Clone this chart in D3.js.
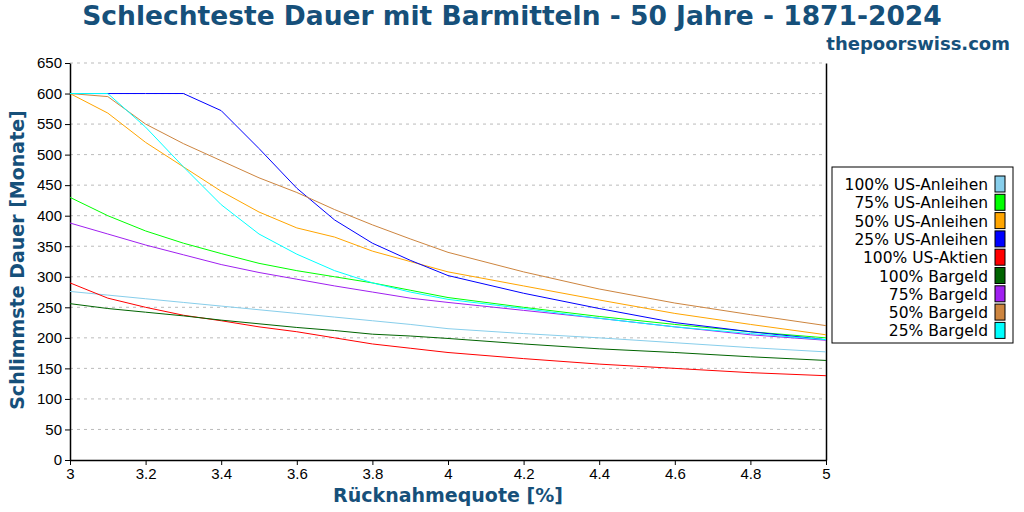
<!DOCTYPE html>
<html><head><meta charset="utf-8">
<script src="https://cdn.jsdelivr.net/npm/d3@7"></script>
<style>body{margin:0;background:#fff}svg{font-family:"DejaVu Sans",sans-serif}</style>
</head><body><div id="graph"></div>
<script>
const rates = [3, 3.1, 3.2, 3.3, 3.4, 3.5, 3.6, 3.7, 3.8, 3.9, 4, 4.2, 4.4, 4.6, 4.8, 5]
const names = ['100% US-Anleihen', '75% US-Anleihen', '50% US-Anleihen', '25% US-Anleihen', '100% US-Aktien', '100% Bargeld', '75% Bargeld', '50% Bargeld', '25% Bargeld']
const colors = ['#87ceeb', '#00ff00', '#ffa500', '#0000ff', '#ff0000', '#006400', '#a020f0', '#cd853f', '#00ffff']
const bonds100 = [276, 270, 264, 258, 252, 246, 240, 234, 228, 222, 215, 207, 200, 192, 184, 177]
const bonds75 = [430, 400, 375, 355, 338, 322, 310, 300, 290, 278, 266, 250, 235, 222, 210, 200]
const bonds50 = [600, 568, 520, 480, 440, 406, 380, 365, 342, 325, 308, 285, 262, 240, 222, 205]
const bonds25 = [600, 600, 600, 600, 572, 510, 445, 393, 355, 327, 302, 273, 248, 225, 210, 197]
const stocks100 = [290, 265, 250, 237, 228, 218, 210, 200, 190, 183, 176, 166, 157, 150, 143, 138]
const cash100 = [256, 248, 242, 236, 229, 223, 217, 212, 206, 203, 199, 190, 182, 176, 169, 163]
const cash75 = [388, 370, 352, 336, 320, 307, 296, 285, 275, 265, 258, 245, 232, 218, 205, 196]
const cash50 = [600, 595, 550, 518, 490, 462, 438, 410, 385, 362, 340, 308, 280, 257, 238, 220]
const cash25 = [600, 600, 545, 480, 418, 370, 337, 310, 290, 275, 263, 248, 232, 218, 207, 197]
const series = [bonds100, bonds75, bonds50, bonds25, stocks100, cash100, cash75, cash50, cash25]
const yTicks = d3.range(0, 651, 50)
const xTicks = [3, 3.2, 3.4, 3.6, 3.8, 4, 4.2, 4.4, 4.6, 4.8, 5]

const svg = d3.select('#graph').append('svg').attr('width', 1024).attr('height', 512)
const x = d3.scaleLinear().domain([3, 5]).range([70, 826])
const y = d3.scaleLinear().domain([0, 650]).range([460, 63])

svg.append('g').selectAll('line').data(yTicks.slice(1)).join('line')
  .attr('x1', 70).attr('x2', 826).attr('y1', d => y(d)).attr('y2', d => y(d))
  .attr('stroke', '#bbb').attr('stroke-dasharray', '3,4')

svg.append('g').attr('transform', 'translate(70,0)')
  .call(d3.axisLeft(y).tickValues(yTicks).tickSize(5).tickSizeOuter(0))
  .call(g => g.selectAll('text').attr('font-size', 15).attr('fill', '#000'))
svg.append('g').attr('transform', 'translate(826,0)')
  .call(d3.axisRight(y).tickValues(yTicks).tickSize(0).tickFormat('').tickSizeOuter(0))
svg.append('g').attr('transform', 'translate(0,460)')
  .call(d3.axisBottom(x).tickValues(xTicks).tickFormat(d3.format('')).tickSize(5).tickSizeOuter(0))
  .call(g => g.selectAll('text').attr('font-size', 15).attr('fill', '#000'))
svg.selectAll('.domain').attr('stroke', '#000').attr('stroke-width', 1.5)

const line = d3.line().x((d, i) => x(rates[i])).y(d => y(d))
svg.append('g').selectAll('path').data(series).join('path')
  .attr('d', line).attr('fill', 'none').attr('stroke', (d, i) => colors[i]).attr('stroke-width', 1)

svg.append('text').attr('x', 512).attr('y', 25).attr('text-anchor', 'middle')
  .attr('font-size', 26.5).attr('font-weight', 'bold').attr('fill', '#16507a')
  .text('Schlechteste Dauer mit Barmitteln - 50 Jahre - 1871-2024')
svg.append('text').attr('x', 1010).attr('y', 50).attr('text-anchor', 'end')
  .attr('font-size', 18).attr('font-weight', 'bold').attr('fill', '#16507a').text('thepoorswiss.com')
svg.append('text').attr('x', 448).attr('y', 502).attr('text-anchor', 'middle')
  .attr('font-size', 19).attr('font-weight', 'bold').attr('fill', '#16507a').text('Rücknahmequote [%]')
svg.append('text').attr('transform', 'translate(24,260) rotate(-90)').attr('text-anchor', 'middle')
  .attr('font-size', 19).attr('font-weight', 'bold').attr('fill', '#16507a').text('Schlimmste Dauer [Monate]')

const lg = svg.append('g')
lg.append('rect').attr('x', 832).attr('y', 167).attr('width', 181).attr('height', 176)
  .attr('fill', '#fff').attr('stroke', '#000')
const item = lg.selectAll('g').data(names).join('g')
  .attr('transform', (d, i) => `translate(0,${184 + i * 18.3})`)
item.append('text').attr('x', 988).attr('y', 6).attr('text-anchor', 'end').attr('font-size', 15.5).text(d => d)
item.append('rect').attr('x', 995).attr('y', -8).attr('width', 10).attr('height', 16)
  .attr('fill', (d, i) => colors[i]).attr('stroke', '#000')
</script></body></html>
